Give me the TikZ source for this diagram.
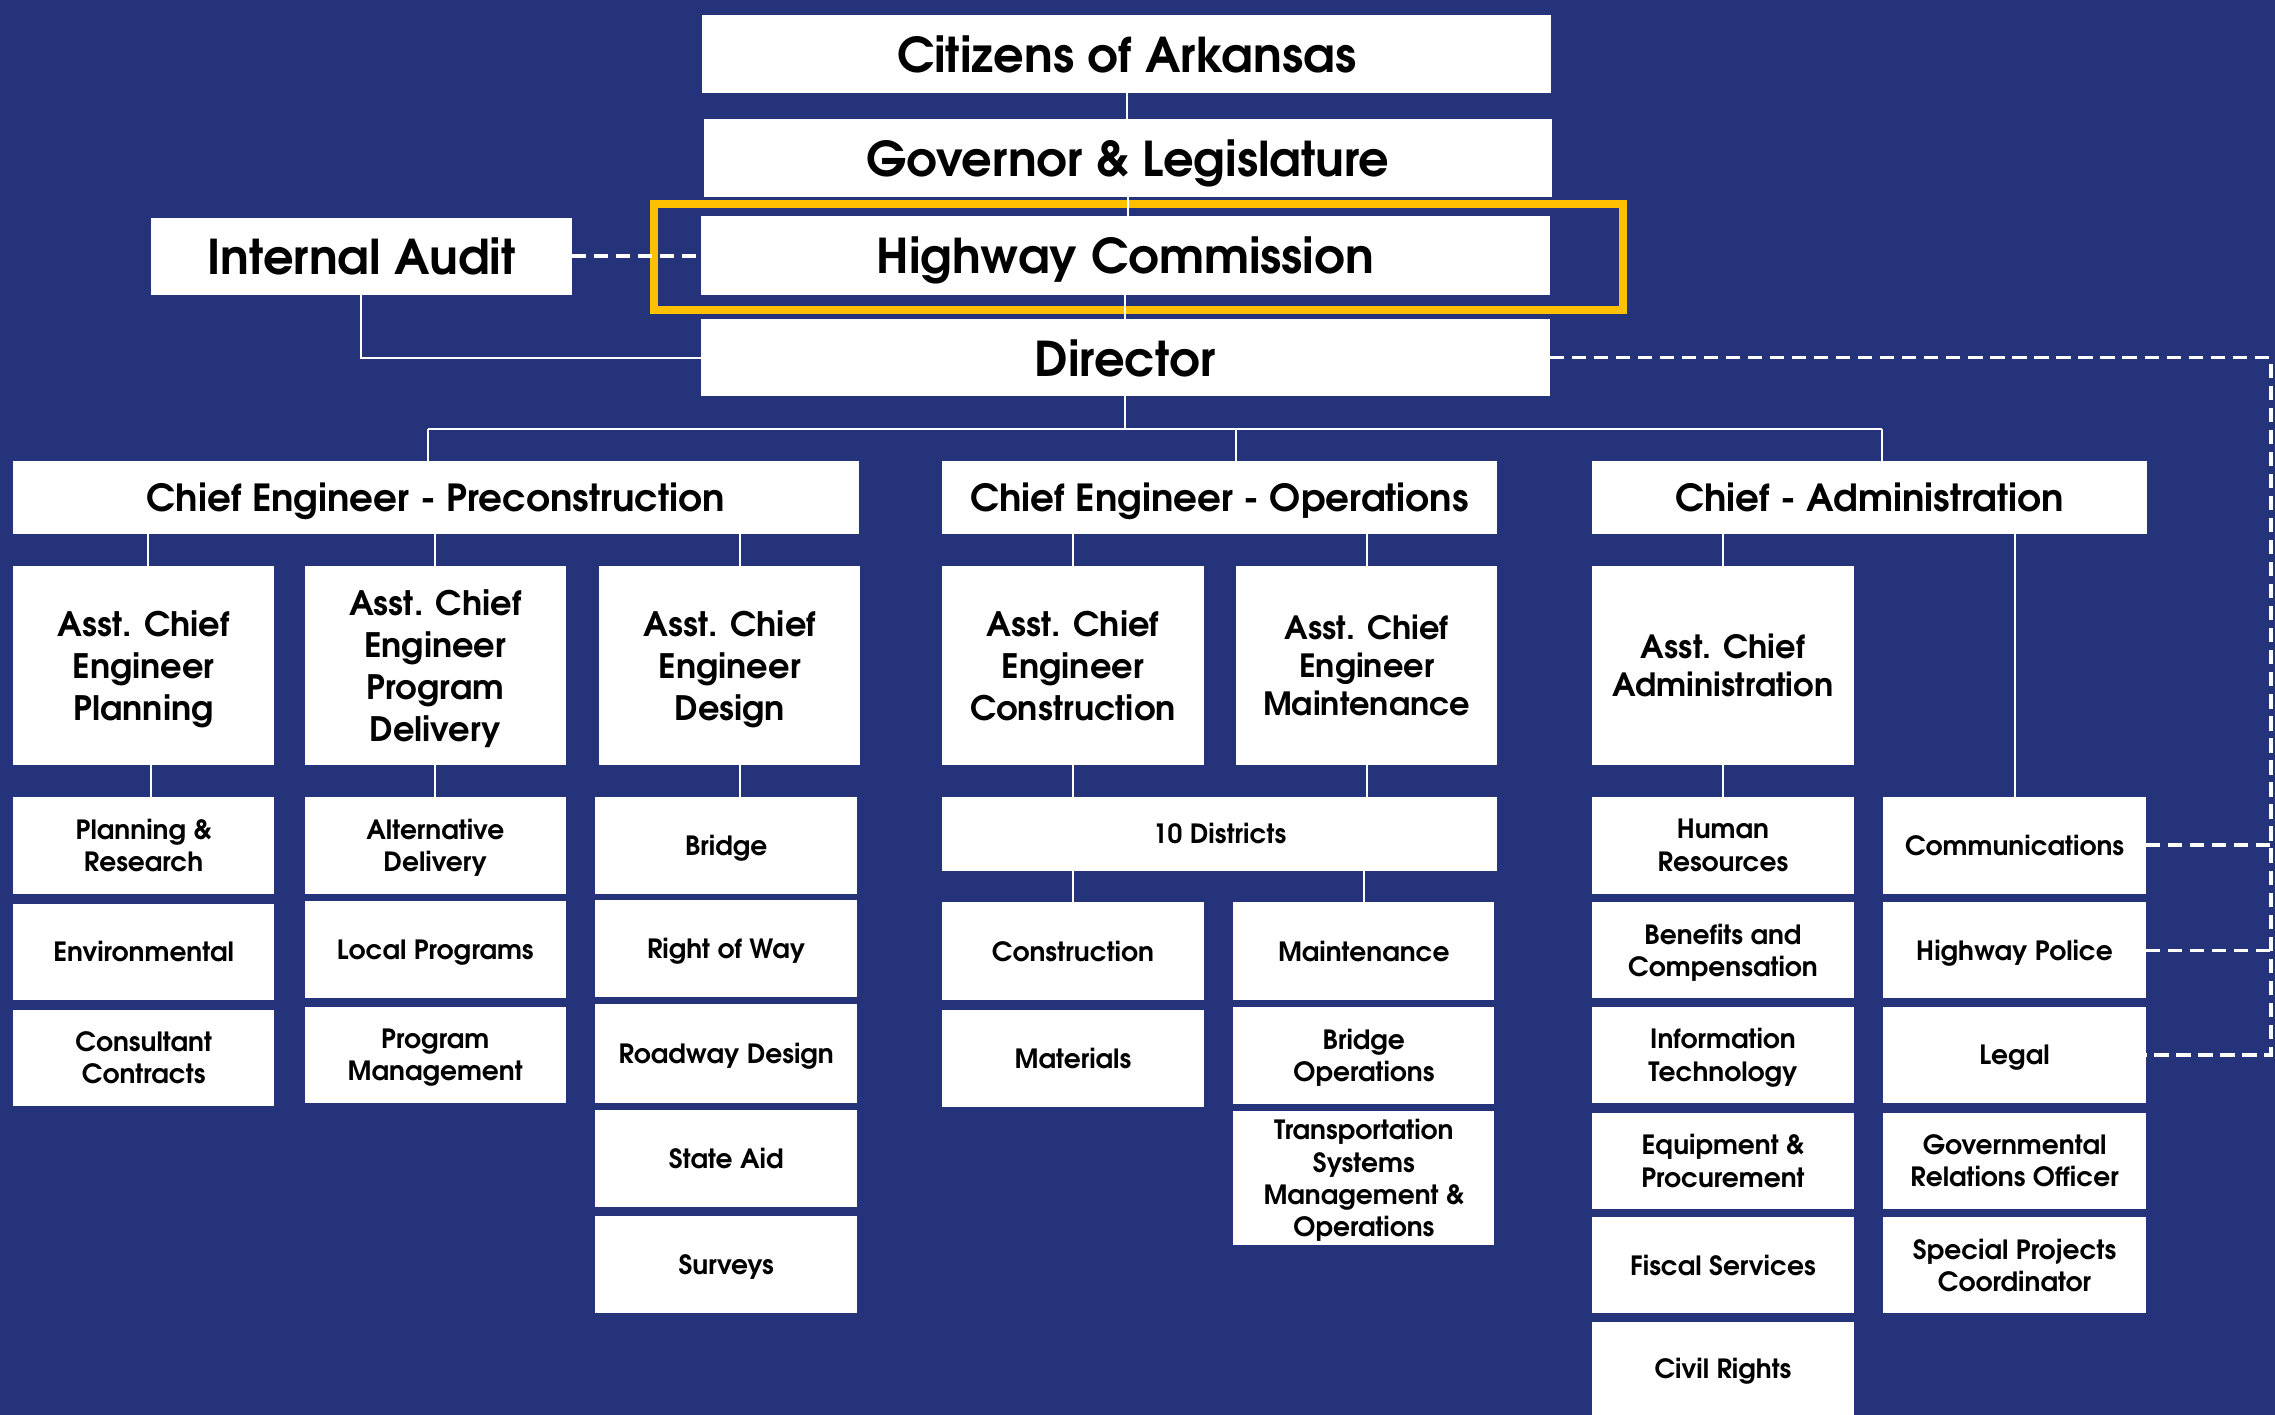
\documentclass[tikz,border=0pt]{standalone}
\usepackage{fontspec}
\setmainfont{texgyreadventor-regular.otf}[BoldFont=texgyreadventor-bold.otf]
\usetikzlibrary{calc}
\definecolor{bgblue}{RGB}{36,51,122}
\definecolor{hlyellow}{RGB}{255,192,0}
\newcommand{\obox}[7]{\node[box,#6,minimum width={(#4-#2)*0.025cm},minimum height={(#5-#3)*0.025cm}] (#1) at ({(#2+#4)/2},{(#3+#5)/2}) {#7};}
\tikzset{
  box/.style={fill=white, inner sep=0pt, outer sep=0pt, align=center, text=black, text depth=0pt, font=\bfseries},
  ttl/.style={font=\fontsize{23.5}{27}\selectfont\bfseries},
  chf/.style={font=\fontsize{18.3}{21}\selectfont\bfseries},
  asst/.style={font=\fontsize{16.5}{20.6}\selectfont\bfseries},
  asstb/.style={font=\fontsize{15.7}{18.5}\selectfont\bfseries},
  sm/.style={font=\fontsize{13}{15.8}\selectfont\bfseries},
  link/.style={draw=white, line width=1pt},
  dl/.style={draw=white, line width=1.8pt, dash pattern=on 7pt off 3.8pt},
}
\begin{document}
\begin{tikzpicture}[x=0.025cm, y=-0.025cm]
\fill[bgblue] (0,0) rectangle (1568,975);
\useasboundingbox (0,0) rectangle (1568,975);
\draw[hlyellow, line width=3.8pt] (450.6,140.8) rectangle (1118.4,213.9);
% top
\obox{cit}{484}{10}{1069}{64}{ttl}{Citizens of Arkansas}
\obox{gov}{485}{82}{1070}{136}{ttl}{Governor \& Legislature}
\obox{hc}{483}{149}{1068}{203}{ttl}{Highway Commission}
\obox{dir}{483}{220}{1068}{273}{ttl}{Director}
\obox{ia}{104}{150}{394}{203}{ttl}{Internal Audit}
% chiefs
\obox{pre}{9}{318}{592}{368}{chf}{Chief Engineer - Preconstruction}
\obox{ops}{649}{318}{1032}{368}{chf}{Chief Engineer - Operations}
\obox{adm}{1097}{318}{1480}{368}{chf}{Chief - Administration}
% assistants
\obox{pa}{9}{390}{189}{527}{asst}{Asst. Chief\\Engineer\\Planning}
\obox{pb}{210}{390}{390}{527}{asst}{Asst. Chief\\Engineer\\Program\\Delivery}
\obox{pc}{413}{390}{593}{527}{asst}{Asst. Chief\\Engineer\\Design}
\obox{oa}{649}{390}{830}{527}{asst}{Asst. Chief\\Engineer\\Construction}
\obox{ob}{852}{390}{1032}{527}{asstb}{Asst. Chief\\Engineer\\Maintenance}
\obox{aa}{1097}{390}{1278}{527}{asstb}{Asst. Chief\\Administration}
% precon units
\obox{pa1}{9}{549}{189}{616}{sm}{Planning \&\\Research}
\obox{pa2}{9}{623}{189}{689}{sm}{Environmental}
\obox{pa3}{9}{696}{189}{762}{sm}{Consultant\\Contracts}
\obox{pb1}{210}{549}{390}{616}{sm}{Alternative\\Delivery}
\obox{pb2}{210}{621}{390}{688}{sm}{Local Programs}
\obox{pb3}{210}{694}{390}{760}{sm}{Program\\Management}
\obox{pc1}{410}{549}{591}{616}{sm}{Bridge}
\obox{pc2}{410}{620}{591}{687}{sm}{Right of Way}
\obox{pc3}{410}{692}{591}{760}{sm}{Roadway Design}
\obox{pc4}{410}{765}{591}{832}{sm}{State Aid}
\obox{pc5}{410}{838}{591}{905}{sm}{Surveys}
% operations units
\obox{dist}{649}{549}{1032}{600}{sm}{10 Districts}
\obox{oa1}{649}{622}{830}{689}{sm}{Construction}
\obox{oa2}{649}{696}{830}{763}{sm}{Materials}
\obox{ob1}{850}{622}{1030}{689}{sm}{Maintenance}
\obox{ob2}{850}{694}{1030}{761}{sm}{Bridge\\Operations}
\obox{ob3}{850}{766}{1030}{858}{sm}{Transportation\\Systems\\Management \&\\Operations}
% admin units
\obox{aa1}{1097}{549}{1278}{616}{sm}{Human\\Resources}
\obox{aa2}{1097}{622}{1278}{688}{sm}{Benefits and\\Compensation}
\obox{aa3}{1097}{694}{1278}{760}{sm}{Information\\Technology}
\obox{aa4}{1097}{767}{1278}{833}{sm}{Equipment \&\\Procurement}
\obox{aa5}{1097}{839}{1278}{905}{sm}{Fiscal Services}
\obox{aa6}{1097}{911}{1278}{975}{sm}{Civil Rights}
\obox{ab1}{1298}{549}{1479}{616}{sm}{Communications}
\obox{ab2}{1298}{622}{1479}{688}{sm}{Highway Police}
\obox{ab3}{1298}{694}{1479}{760}{sm}{Legal}
\obox{ab4}{1298}{767}{1479}{833}{sm}{Governmental\\Relations Officer}
\obox{ab5}{1298}{839}{1479}{905}{sm}{Special Projects\\Coordinator}
% connectors
\coordinate (bl) at (295,296);
\coordinate (bm) at (852,296);
\coordinate (br) at (1297,296);
\coordinate (dx) at (1565,245);
\coordinate (pcx) at ($(pc.north)+(7,0)$);
\coordinate (pcy) at ($(pc.south)+(7,0)$);
\coordinate (pax) at ($(pa.north)+(3,0)$);
\coordinate (pay) at ($(pa.south)+(5,0)$);
\draw[link] (cit.south) -- (cit.south |- gov.north);
\draw[link] (gov.south) -- (gov.south |- hc.north);
\draw[link] (hc.south) -- (hc.south |- dir.north);
\draw[link] (dir.south) -- (dir.south |- bl);
\draw[link] (bl) -- (br);
\draw[link] (bl) -- (bl |- pre.north);
\draw[link] (bm) -- (bm |- ops.north);
\draw[link] (br) -- (br |- adm.north);
\draw[link] (ia.south) |- (dir.west);
\draw[dl] (ia.east) -- (ia.east -| hc.west);
\draw[link] (pax) -- (pax |- pre.south);
\draw[link] (pb.north) -- (pb.north |- pre.south);
\draw[link] (pcx) -- (pcx |- pre.south);
\draw[link] (pay) -- (pay |- pa1.north);
\draw[link] (pb.south) -- (pb.south |- pb1.north);
\draw[link] (pcy) -- (pcy |- pc1.north);
\draw[link] (oa.north) -- (oa.north |- ops.south);
\draw[link] (ob.north) -- (ob.north |- ops.south);
\draw[link] (oa.south) -- (oa.south |- dist.north);
\draw[link] (ob.south) -- (ob.south |- dist.north);
\draw[link] (oa1.north) -- (oa1.north |- dist.south);
\draw[link] (ob1.north) -- (ob1.north |- dist.south);
\draw[link] (aa.north) -- (aa.north |- adm.south);
\draw[link] (aa.south) -- (aa.south |- aa1.north);
\draw[link] (ab1.north) -- (ab1.north |- adm.south);
\draw[dl] (dir.east) -- (dir.east -| dx) -- (dx |- ab3.east) -- (ab3.east);
\draw[dl] (ab1.east) -- (ab1.east -| dx);
\draw[dl] (ab2.east) -- (ab2.east -| dx);
\end{tikzpicture}
\end{document}
